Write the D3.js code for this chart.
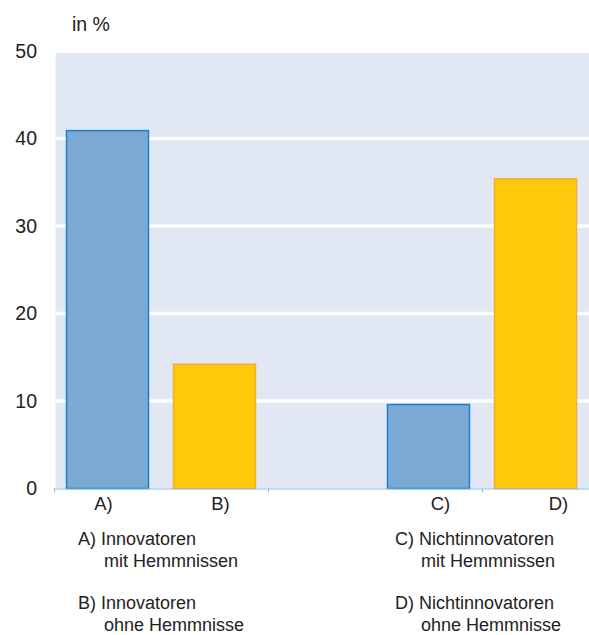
<!DOCTYPE html>
<html>
<head>
<meta charset="utf-8">
<script src="https://cdn.jsdelivr.net/npm/d3@7"></script>
<style>
  body { margin: 0; background: #fff; }
  text { font-family: "Liberation Sans", Arial, sans-serif; fill: #222; }
</style>
</head>
<body>
<svg id="chart"></svg>
<script>
const W = 589, H = 635;

// data
const categories = ["A)", "B)", "", "C)", "D)"];
const values = [40.9, 14.2, null, 9.6, 35.4];
const kinds = ["innov", "none", null, "innov", "none"];
const yTicks = [0, 10, 20, 30, 40, 50];
const legendA = ["A) Innovatoren", "mit Hemmnissen"];
const legendB = ["B) Innovatoren", "ohne Hemmnisse"];
const legendC = ["C) Nichtinnovatoren", "mit Hemmnissen"];
const legendD = ["D) Nichtinnovatoren", "ohne Hemmnisse"];

var svg = d3.select("#chart")
    .attr("width", W)
    .attr("height", H);

var x = d3.scaleBand()
    .domain(d3.range(categories.length))
    .range([54, 589]);

var y = d3.scaleLinear()
    .domain([0, 50])
    .range([488.5, 51]);

/* plot background */
svg.append("rect")
    .attr("x", 55.5)
    .attr("y", y(50) + 2)
    .attr("width", W - 55.5)
    .attr("height", y(0) - y(50) - 2)
    .attr("fill", "#e1e8f4");

/* white gridlines */
svg.append("g")
    .selectAll("line")
    .data(yTicks.filter(t => t > 0 && t < 50))
    .enter().append("line")
    .attr("x1", 55.5)
    .attr("x2", W)
    .attr("y1", d => y(d))
    .attr("y2", d => y(d))
    .attr("stroke", "#fff")
    .attr("stroke-width", 3.5);

/* y tick labels */
svg.append("g")
    .selectAll("text")
    .data(yTicks)
    .enter().append("text")
    .attr("x", 37)
    .attr("y", d => y(d))
    .attr("dy", "0.35em")
    .attr("text-anchor", "end")
    .attr("font-size", 19.5)
    .text(d => d);

svg.append("text")
    .attr("x", 72)
    .attr("y", 31)
    .attr("font-size", 19.5)
    .text("in %");

/* bars */
var inset = 12.5;
svg.append("g")
    .selectAll("rect")
    .data(values.map((v, i) => ({v: v, i: i, k: kinds[i]})).filter(d => d.v != null))
    .enter().append("rect")
    .attr("x", d => x(d.i) + inset)
    .attr("width", x.bandwidth() - 2 * inset)
    .attr("y", d => y(d.v))
    .attr("height", d => y(0) - y(d.v))
    .attr("fill", d => d.k == "innov" ? "#7aaad3" : "#ffc90b")
    .attr("stroke", d => d.k == "innov" ? "#1a7fcc" : "#f5ad2c")
    .attr("stroke-width", 1.5);

/* x axis line + ticks */
var axis = svg.append("g");
axis.append("line")
    .attr("x1", 54).attr("x2", W)
    .attr("y1", y(0) + 0.5).attr("y2", y(0) + 0.5)
    .attr("stroke", "#8fbbe2")
    .attr("stroke-width", 1);
axis.selectAll("line.tick")
    .data([0, 2, 4])
    .enter().append("line")
    .attr("class", "tick")
    .attr("x1", d => x(d) + 0.5).attr("x2", d => x(d) + 0.5)
    .attr("y1", y(0)).attr("y2", y(0) + 4)
    .attr("stroke", "#8fbbe2");

var labelNudge = [-4, 6, 0, 12, 23];
axis.selectAll("text")
    .data(categories.map((c, i) => ({c: c, i: i})).filter(d => d.c))
    .enter().append("text")
    .attr("x", d => x(d.i) + x.bandwidth() / 2 + labelNudge[d.i])
    .attr("y", 510)
    .attr("text-anchor", "middle")
    .attr("font-size", 18.5)
    .text(d => d.c);

/* legend */
function legendBlock(lines, lx, ly) {
    var g = svg.append("g");
    g.append("text").attr("x", lx).attr("y", ly).attr("font-size", 18).text(lines[0]);
    g.append("text").attr("x", lx + 26).attr("y", ly + 22).attr("font-size", 18).text(lines[1]);
}
legendBlock(legendA, 78, 545);
legendBlock(legendB, 78, 609);
legendBlock(legendC, 395, 545);
legendBlock(legendD, 395, 609);
</script>
</body>
</html>
